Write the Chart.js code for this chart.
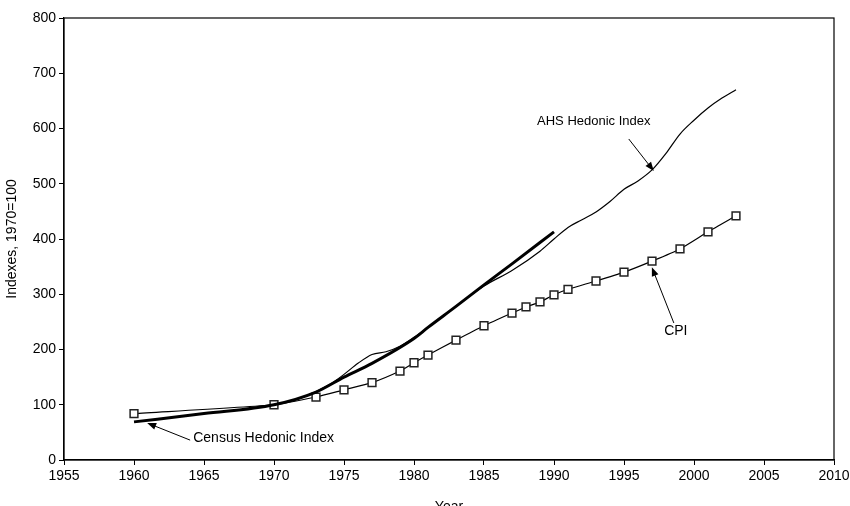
<!DOCTYPE html>
<html>
<head>
<meta charset="utf-8">
<script src="https://cdn.jsdelivr.net/npm/chart.js@4"></script>
<style>
  html, body { margin: 0; padding: 0; background: #fff; }
  #wrap { width: 850px; height: 506px; }
</style>
</head>
<body>
<div id="wrap"><canvas id="indexChart" width="850" height="506"></canvas></div>
<script>
const cpiYears = [1960, 1970, 1973, 1975, 1977, 1979, 1980, 1981, 1983, 1985, 1987, 1988, 1989, 1990, 1991, 1993, 1995, 1997, 1999, 2001, 2003];
const cpiValues = [84, 100, 114, 127, 140, 161, 176, 190, 217, 243, 266, 277, 286, 299, 309, 324, 340, 360, 382, 413, 442];

const censusYears = [1960, 1965, 1970, 1973, 1975, 1977, 1980, 1981, 1983, 1985, 1987, 1990];
const censusValues = [69, 84, 100, 123, 150, 175, 220, 240, 278, 317, 355, 413];

const ahsYears = [1970, 1972, 1974, 1975, 1976, 1977, 1978, 1979, 1980, 1981, 1983, 1985, 1987, 1989, 1990, 1991, 1992, 1993, 1994, 1995, 1996, 1997, 1998, 1999, 2000, 2001, 2002, 2003];
const ahsValues = [100, 113, 137, 155, 175, 191, 196, 206, 222, 240, 278, 315, 343, 378, 400, 421, 435, 449, 468, 490, 505, 525, 555, 590, 615, 637, 655, 670];

const toPoints = (xs, ys) => xs.map((x, i) => ({ x: x, y: ys[i] }));

// labels with arrows, anchored in data units
const notes = [
    { text: 'AHS Hedonic Index', size: 13, tx: 1992.84, ty: 612, align: 'center', from: [1995.34, 581], to: [1997.13, 523] },
    { text: 'CPI', size: 14, tx: 1998.7, ty: 233, align: 'center', from: [1998.56, 248], to: [1996.99, 349] },
    { text: 'Census Hedonic Index', size: 14, tx: 1964.23, ty: 40, align: 'left', from: [1964.01, 36], to: [1960.94, 67] }
];

const frameAndNotes = {
    id: 'frameAndNotes',
    afterDraw(chart) {
        const ctx = chart.ctx;
        const a = chart.chartArea;
        const xs = chart.scales.x, ys = chart.scales.y;
        ctx.save();
        ctx.strokeStyle = '#000';
        ctx.lineWidth = 1.2;
        ctx.strokeRect(a.left, a.top, a.right - a.left, a.bottom - a.top);

        notes.forEach(n => {
            ctx.fillStyle = '#000';
            ctx.font = n.size + 'px "Liberation Sans", Arial, sans-serif';
            ctx.textAlign = n.align;
            ctx.textBaseline = 'middle';
            ctx.fillText(n.text, xs.getPixelForValue(n.tx), ys.getPixelForValue(n.ty));

            const x1 = xs.getPixelForValue(n.from[0]), y1 = ys.getPixelForValue(n.from[1]);
            const x2 = xs.getPixelForValue(n.to[0]), y2 = ys.getPixelForValue(n.to[1]);
            const ang = Math.atan2(y2 - y1, x2 - x1);
            const len = 9, half = 3.5;
            ctx.lineWidth = 1;
            ctx.beginPath();
            ctx.moveTo(x1, y1);
            ctx.lineTo(x2 - Math.cos(ang) * len * 0.8, y2 - Math.sin(ang) * len * 0.8);
            ctx.stroke();
            ctx.beginPath();
            ctx.moveTo(x2, y2);
            ctx.lineTo(x2 - Math.cos(ang) * len - Math.sin(ang) * half, y2 - Math.sin(ang) * len + Math.cos(ang) * half);
            ctx.lineTo(x2 - Math.cos(ang) * len + Math.sin(ang) * half, y2 - Math.sin(ang) * len - Math.cos(ang) * half);
            ctx.closePath();
            ctx.fill();
        });
        ctx.restore();
    }
};

const ctx = document.getElementById('indexChart').getContext('2d');
new Chart(ctx, {
    type: 'line',
    data: {
        datasets: [{
            label: 'Census Hedonic Index',
            data: toPoints(censusYears, censusValues),
            borderColor: '#000',
            borderWidth: 3,
            pointRadius: 0,
            cubicInterpolationMode: 'monotone',
            fill: false
        }, {
            label: 'AHS Hedonic Index',
            data: toPoints(ahsYears, ahsValues),
            borderColor: '#000',
            borderWidth: 1.2,
            pointRadius: 0,
            cubicInterpolationMode: 'monotone',
            fill: false
        }, {
            label: 'CPI',
            data: toPoints(cpiYears, cpiValues),
            borderColor: '#000',
            borderWidth: 1.2,
            tension: 0.2,
            pointStyle: 'rect',
            pointRadius: 5.5,
            pointBorderWidth: 1.5,
            pointBackgroundColor: '#fff',
            pointBorderColor: '#222',
            fill: false
        }]
    },
    options: {
        responsive: false,
        animation: false,
        layout: { padding: { left: 0, right: 16, top: 18, bottom: 0 } },
        plugins: {
            legend: { display: false },
            tooltip: { enabled: false }
        },
        scales: {
            x: {
                type: 'linear',
                min: 1955,
                max: 2010,
                afterFit: s => { s.height = 46; s.paddingRight = 0; },
                ticks: {
                    stepSize: 5,
                    color: '#000',
                    padding: 3,
                    maxRotation: 0,
                    font: { family: '"Liberation Sans", Arial, sans-serif', size: 14 },
                    callback: v => String(v)
                },
                grid: { drawOnChartArea: false, drawTicks: true, tickLength: 5, color: '#000' },
                border: { color: '#000', width: 1.2 },
                title: {
                    display: true,
                    text: 'Year',
                    color: '#000',
                    padding: { top: 0, bottom: -10 },
                    font: { family: '"Liberation Sans", Arial, sans-serif', size: 14 }
                }
            },
            y: {
                min: 0,
                max: 800,
                afterFit: s => { s.width = 64; },
                ticks: {
                    stepSize: 100,
                    color: '#000',
                    padding: 3,
                    font: { family: '"Liberation Sans", Arial, sans-serif', size: 14 }
                },
                grid: { drawOnChartArea: false, drawTicks: true, tickLength: 5, color: '#000' },
                border: { color: '#000', width: 1.2 },
                title: {
                    display: true,
                    text: 'Indexes, 1970=100',
                    color: '#000',
                    padding: { top: 4, bottom: 0 },
                    font: { family: '"Liberation Sans", Arial, sans-serif', size: 14 }
                }
            }
        }
    },
    plugins: [frameAndNotes]
});
</script>
</body>
</html>
